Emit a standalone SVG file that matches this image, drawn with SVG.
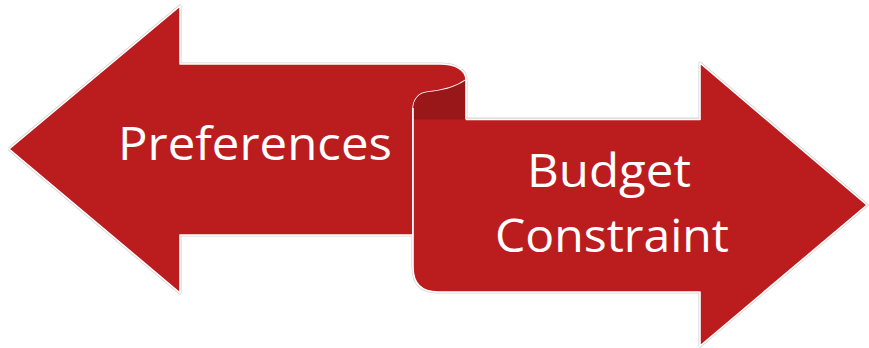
<svg xmlns="http://www.w3.org/2000/svg" width="869" height="348" viewBox="0 0 869 348">
  <style>
    .halo { fill: none; stroke: #d6d6d6; stroke-width: 3.2; stroke-linejoin: round; }
    .body { fill: #bb1d1f; stroke: #ffffff; stroke-width: 1.6; stroke-linejoin: round; }
    .back { fill: #991719; stroke: none; }
    .edge { fill: none; stroke: #ffffff; stroke-width: 1.6; }
    .label { font-family: "Open Sans", "Liberation Sans", sans-serif; font-size: 45px; fill: #ffffff; }
  </style>
  <rect width="869" height="348" fill="#ffffff"/>

  <!-- left arrow with rolled ribbon end -->
  <g id="preferences">
    <path class="halo" d="M9,149 L180,6 L180,64 L440,64 C456,64 466,70 466,80 L466,120 M413,235 L180,235 L180,293 L9,149"/>
    <path class="body" d="M9,149 L180,6 L180,64 L440,64 C456,64 466,70 466,80 C455,88 440,91 428,92 C418,93 413,100 413,110 L413,235 L180,235 L180,293 Z"/>
    <text class="label" x="118" y="160" textLength="274" lengthAdjust="spacingAndGlyphs">Preferences</text>
  </g>

  <!-- underside of the roll -->
  <g id="roll">
    <path class="back" d="M413,110 C413,100 418,93 428,92 C440,91 455,88 466,80 L466,120 L413,120 Z"/>
    <path class="edge" d="M466,80 L466,120"/>
  </g>

  <!-- right arrow -->
  <g id="budget-constraint">
    <path class="halo" d="M466,119 L700,119 L700,63 L867,205 L700,346 L700,292 L438,292 Q413,292 413,267 L413,236"/>
    <path class="body" d="M466,119.5 L700,119.5 L700,63 L867,205 L700,346 L700,292 L438,292 Q413,292 413,267 L413,119.5"/>
    <path class="edge" d="M413,120 L413,108"/>
    <text class="label" x="527" y="187" textLength="164" lengthAdjust="spacingAndGlyphs">Budget</text>
    <text class="label" x="495" y="252" textLength="234" lengthAdjust="spacingAndGlyphs">Constraint</text>
  </g>
</svg>
